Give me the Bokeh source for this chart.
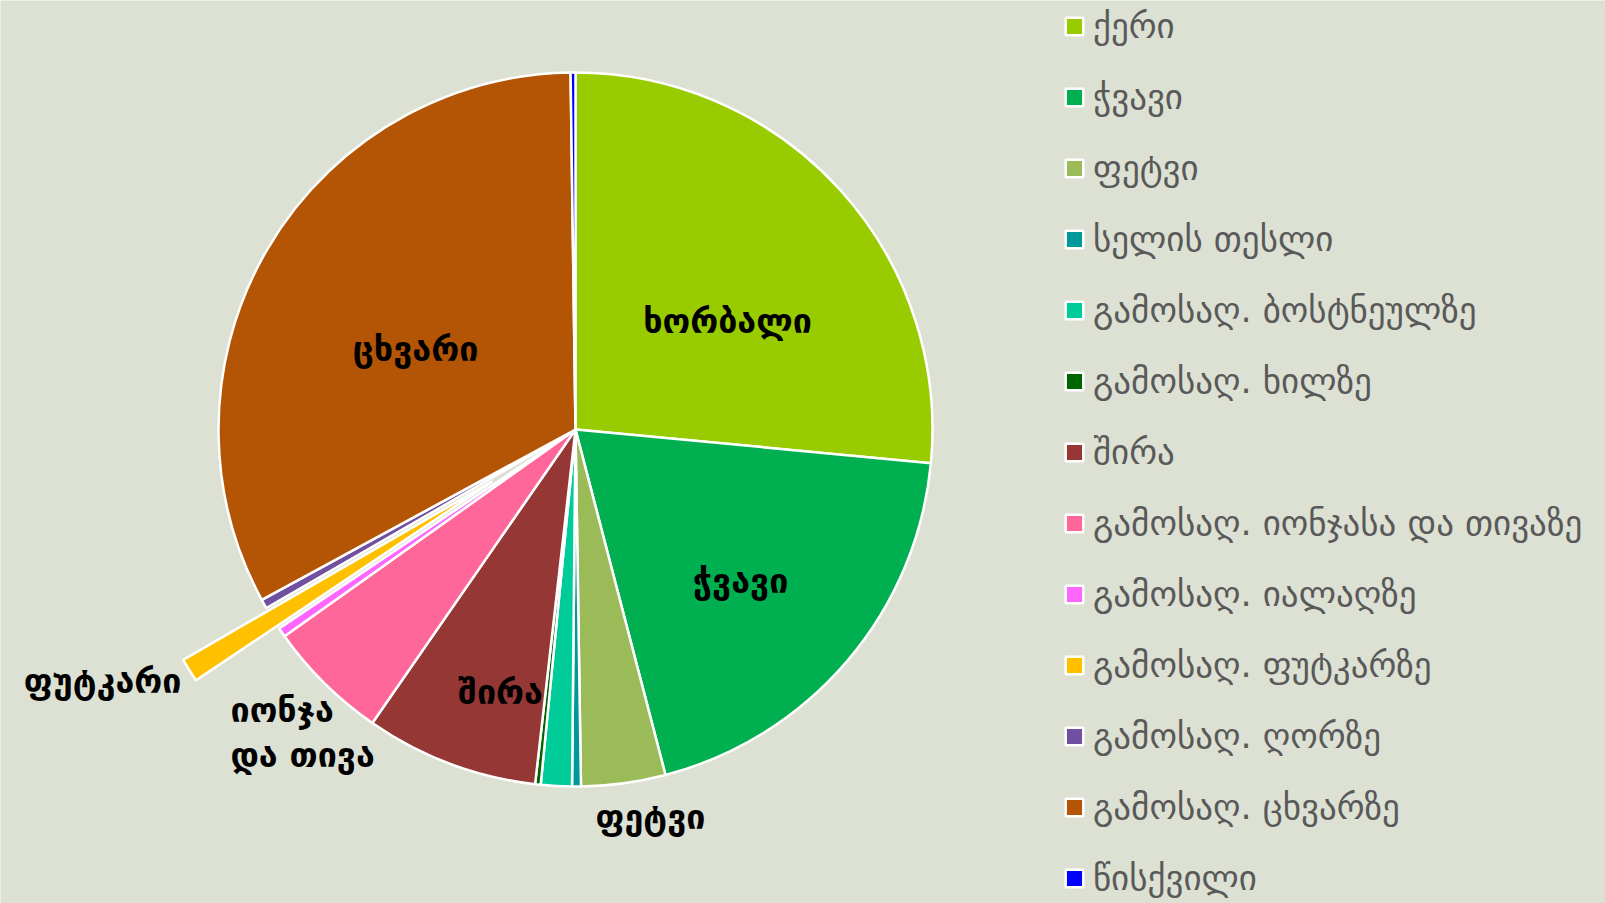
import math
from bokeh.plotting import figure
from bokeh.models import ColumnDataSource, Range1d
from bokeh.core.properties import value
from bokeh.embed import file_html
from bokeh.resources import INLINE

# ---- data ----
legend_names = [
    "ქერი",
    "ჭვავი",
    "ფეტვი",
    "სელის თესლი",
    "გამოსაღ. ბოსტნეულზე",
    "გამოსაღ. ხილზე",
    "შირა",
    "გამოსაღ. იონჯასა და თივაზე",
    "გამოსაღ. იალაღზე",
    "გამოსაღ. ფუტკარზე",
    "გამოსაღ. ღორზე",
    "გამოსაღ. ცხვარზე",
    "წისქვილი",
]
shares = [26.5, 19.44, 3.81, 0.40, 1.40, 0.25, 7.83, 5.53, 0.42, 1.08, 0.42, 32.69, 0.22]
colors = ["#99cc00", "#00b050", "#9bbb59", "#009999", "#00cc99", "#006600", "#953735",
          "#ff6699", "#ff66ff", "#ffc000", "#7050a0", "#b45506", "#0000ff"]
explode_px = [0, 0, 0, 0, 0, 0, 0, 0, 0, 98, 0, 0, 0]

slice_labels = ["ხორბალი", "ჭვავი", "ფეტვი", "შირა", "იონჯა", "და თივა", "ფუტკარი", "ცხვარი"]
label_xy = [(727, 583), (740, 323), (650, 87), (500, 212), (230, 194), (230, 149), (102, 223), (415, 555)]
label_align = ["center", "center", "center", "center", "left", "left", "center", "center"]

BG = "#dce1d3"
W, H = 1605, 903
CX, CY, R = 575, 474, 357

total = sum(shares)
starts, ends, xs, ys = [], [], [], []
acc = 0.0
for s, d in zip(shares, explode_px):
    b0 = 360.0 * acc / total
    acc += s
    b1 = 360.0 * acc / total
    bm = math.radians((b0 + b1) / 2)
    starts.append(math.radians(90 - b0))
    ends.append(math.radians(90 - b1))
    xs.append(CX + d * math.sin(bm))
    ys.append(CY + d * math.cos(bm))

src = ColumnDataSource(dict(x=xs, y=ys, start=starts, end=ends, color=colors, name=legend_names))

p = figure(width=W, height=H, x_range=Range1d(0, W), y_range=Range1d(0, H),
           output_backend="svg", toolbar_location=None, min_border=0,
           x_axis_location=None, y_axis_location=None,
           background_fill_color=BG, border_fill_color=BG, outline_line_color=None)
p.grid.visible = False

p.wedge(x="x", y="y", radius=R, start_angle="start", end_angle="end", direction="clock",
        fill_color="color", line_color="white", line_width=2.5, source=src,
        legend_field="name")

for (lx, ly), t, a in zip(label_xy, slice_labels, label_align):
    p.text(x=[lx], y=[ly], text=[t], text_font=value("DejaVu Sans"), text_font_style="bold",
           text_font_size="34px", text_color="black", text_align=a, text_baseline="middle")

lg = p.legend[0]
lg.location = (1063, 4)
lg.padding = 0
lg.margin = 0
lg.spacing = 29
lg.glyph_width = 22
lg.glyph_height = 22
lg.label_height = 42
lg.label_standoff = 8
lg.label_text_font = "DejaVu Sans"
lg.label_text_font_size = "35px"
lg.label_text_color = "#595959"
lg.background_fill_alpha = 0
lg.border_line_alpha = 0

open("out.html", "w").write(file_html(p, INLINE))
